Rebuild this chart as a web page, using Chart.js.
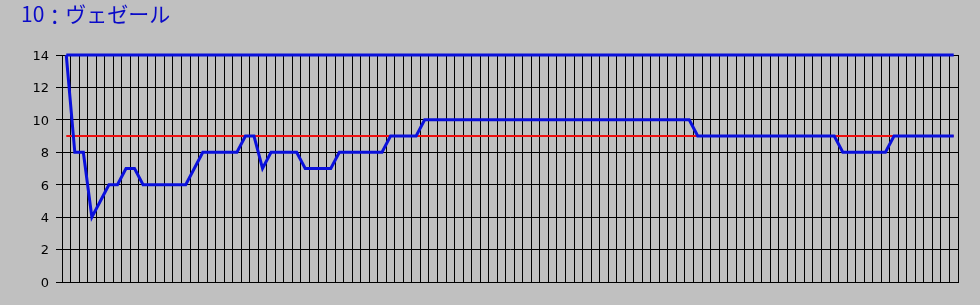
<!DOCTYPE html>
<html>
<head>
<meta charset="utf-8">
<script src="https://cdn.jsdelivr.net/npm/chart.js@4"></script>
<style>
  html, body { margin: 0; padding: 0; background: #c0c0c0; }
  #wrap { position: relative; width: 980px; height: 305px; overflow: hidden; }
  #title { position: absolute; left: 21px; top: 3px; font-family: "Noto Sans CJK JP", sans-serif; font-size: 21px; line-height: 20px; color: #0a0ac8; white-space: nowrap; }
  #title .colon { position: relative; top: 2px; }
  canvas { position: absolute; left: 0; top: 0; }
</style>
</head>
<body>
<div id="wrap">
  <canvas id="c" width="980" height="305"></canvas>
  <div id="title">10<span class="colon">：</span>ヴェゼール</div>
</div>
<script>
const categories = [
  "1","2","3","4","5","6","7","8","9","10",
  "11","12","13","14","15","16","17","18","19","20",
  "21","22","23","24","25","26","27","28","29","30",
  "31","32","33","34","35","36","37","38","39","40",
  "41","42","43","44","45","46","47","48","49","50",
  "51","52","53","54","55","56","57","58","59","60",
  "61","62","63","64","65","66","67","68","69","70",
  "71","72","73","74","75","76","77","78","79","80",
  "81","82","83","84","85","86","87","88","89","90",
  "91","92","93","94","95","96","97","98","99","100",
  "101","102","103","104","105"
];

const rankValues = [
  14, 8, 8, 4, 5, 6, 6, 7, 7, 6,
  6, 6, 6, 6, 6, 7, 8, 8, 8, 8,
  8, 9, 9, 7, 8, 8, 8, 8, 7, 7,
  7, 7, 8, 8, 8, 8, 8, 8, 9, 9,
  9, 9, 10, 10, 10, 10, 10, 10, 10, 10,
  10, 10, 10, 10, 10, 10, 10, 10, 10, 10,
  10, 10, 10, 10, 10, 10, 10, 10, 10, 10,
  10, 10, 10, 10, 9, 9, 9, 9, 9, 9,
  9, 9, 9, 9, 9, 9, 9, 9, 9, 9,
  9, 8, 8, 8, 8, 8, 8, 9, 9, 9,
  9, 9, 9, 9, 9
];

const fieldSizeValues = [
  14, 14, 14, 14, 14, 14, 14, 14, 14, 14,
  14, 14, 14, 14, 14, 14, 14, 14, 14, 14,
  14, 14, 14, 14, 14, 14, 14, 14, 14, 14,
  14, 14, 14, 14, 14, 14, 14, 14, 14, 14,
  14, 14, 14, 14, 14, 14, 14, 14, 14, 14,
  14, 14, 14, 14, 14, 14, 14, 14, 14, 14,
  14, 14, 14, 14, 14, 14, 14, 14, 14, 14,
  14, 14, 14, 14, 14, 14, 14, 14, 14, 14,
  14, 14, 14, 14, 14, 14, 14, 14, 14, 14,
  14, 14, 14, 14, 14, 14, 14, 14, 14, 14,
  14, 14, 14, 14, 14
];

const averageValues = [
  9, 9, 9, 9, 9, 9, 9, 9, 9, 9,
  9, 9, 9, 9, 9, 9, 9, 9, 9, 9,
  9, 9, 9, 9, 9, 9, 9, 9, 9, 9,
  9, 9, 9, 9, 9, 9, 9, 9, 9, 9,
  9, 9, 9, 9, 9, 9, 9, 9, 9, 9,
  9, 9, 9, 9, 9, 9, 9, 9, 9, 9,
  9, 9, 9, 9, 9, 9, 9, 9, 9, 9,
  9, 9, 9, 9, 9, 9, 9, 9, 9, 9,
  9, 9, 9, 9, 9, 9, 9, 9, 9, 9,
  9, 9, 9, 9, 9, 9, 9, 9, 9, 9,
  9, 9, 9, 9, 9
];

const yTicks = [0, 2, 4, 6, 8, 10, 12, 14];

const BLUE = '#0a10dc';
const RED = '#ee1010';

new Chart(document.getElementById('c'), {
  type: 'line',
  data: {
    labels: categories,
    datasets: [
      { label: 'rank', data: rankValues, borderColor: BLUE, borderWidth: 3, pointRadius: 0, tension: 0, clip: 6, fill: false },
      { label: 'field', data: fieldSizeValues, borderColor: BLUE, borderWidth: 3, pointRadius: 0, tension: 0, clip: 6, fill: false },
      { label: 'avg', data: averageValues, borderColor: RED, borderWidth: 2, pointRadius: 0, tension: 0, fill: false }
    ]
  },
  options: {
    responsive: false,
    animation: false,
    devicePixelRatio: 1,
    layout: { padding: { top: 55, right: 22, bottom: 23, left: 0 } },
    plugins: { legend: { display: false }, tooltip: { enabled: false }, title: { display: false } },
    scales: {
      x: {
        type: 'category',
        offset: true,
        grid: { offset: true, color: '#000', lineWidth: 1, drawTicks: false },
        ticks: { display: false },
        border: { color: '#000', width: 1 },
        afterFit(s) { s.height = 0; }
      },
      y: {
        min: yTicks[0],
        max: yTicks[yTicks.length - 1],
        afterBuildTicks(s) { s.ticks = yTicks.map(v => ({ value: v })); },
        ticks: { color: '#000', font: { family: 'DejaVu Sans', size: 13 }, padding: 7, labelOffset: 1.5 },
        grid: { color: '#000', lineWidth: 1, tickLength: 6 },
        border: { color: '#000', width: 1 },
        afterFit(s) { s.width = 62; }
      }
    }
  }
});
</script>
</body>
</html>
